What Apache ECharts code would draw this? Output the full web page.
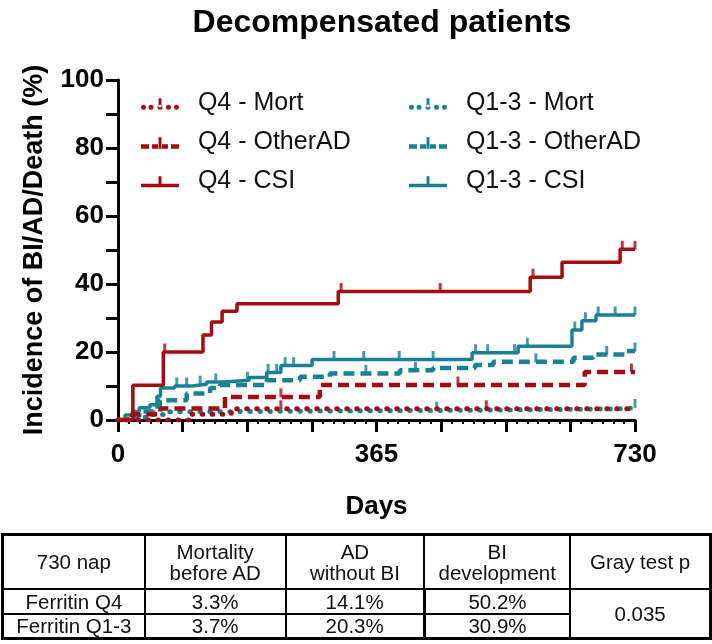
<!DOCTYPE html>
<html>
<head>
<meta charset="utf-8">
<script src="https://cdn.jsdelivr.net/npm/echarts@6/dist/echarts.min.js"></script>
<style>
  html, body { margin: 0; padding: 0; background: #fff; }
  #chart { position: absolute; left: 0; top: 0; width: 712px; height: 644px; }
  #tbl { position: absolute; left: 1px; top: 533px; border-collapse: collapse;
         font-family: "Liberation Sans", Arial, sans-serif;
         font-size: 20.5px; color: #111; border: 3px solid #000; }
  #tbl td { border: 2px solid #000; text-align: center; padding: 0; line-height: 21px; }
</style>
</head>
<body>
<div id="chart"></div>
<table id="tbl">
  <tr style="height:54px">
    <td style="width:140px">730 nap</td>
    <td style="width:139px">Mortality<br>before AD</td>
    <td style="width:137px">AD<br>without BI</td>
    <td style="width:144px">BI<br>development</td>
    <td style="width:138px">Gray test p</td>
  </tr>
  <tr style="height:25px">
    <td>Ferritin Q4</td><td>3.3%</td><td>14.1%</td><td style="border-left:3px solid #000">50.2%</td>
    <td rowspan="2">0.035</td>
  </tr>
  <tr style="height:25px">
    <td>Ferritin Q1-3</td><td>3.7%</td><td>20.3%</td><td style="border-left:3px solid #000;border-bottom:3px solid #000">30.9%</td>
  </tr>
</table>
<script>
// ---- data (day, cumulative incidence %) ----
var q4Mort = [[0,0],[100,1.7],[160,3.3],[730,3.3]];
var q4Other = [[0,0],[20,1.7],[60,3.4],[151,6.8],[285,10.3],[659,14.1],[730,14.1]];
var q4CSI = [[0,0],[21,10.2],[64,20],[120,25],[132,28.8],[147,32],[168,34.2],[311,37.8],[582,42],[627,46.4],[709,50.2],[730,50.2]];
var q13Mort = [[0,0],[20,0.8],[45,1.6],[70,2.4],[110,2.9],[515,3.3],[720,3.7],[730,3.7]];
var q13Other = [[0,0],[15,1],[30,2.5],[50,4],[59,5.8],[97,7.8],[130,9.4],[144,10.3],[210,11.7],[257,12.7],[299,13.7],[398,14.6],[445,15.3],[504,16.2],[530,17.1],[643,18.3],[671,19.3],[718,20.3],[730,20.3]];
var q13CSI = [[0,0],[10,1.5],[20,2.5],[30,3.6],[45,4.5],[55,7],[60,9.4],[80,10],[105,10.5],[125,11.2],[150,11.7],[185,12.5],[210,14],[230,16],[274,17.8],[500,19.8],[565,21.7],[641,26.5],[655,29.2],[675,30.9],[730,30.9]];
// censor marks
var q4CSICens = [[66,20],[315,37.8],[455,37.8],[586,42],[712,50.2],[730,50.2]];
var q13CSICens = [[83,10],[97,10],[116,10.5],[138,11.2],[183,11.7],[212,14],[224,14],[236,16],[248,16],[305,17.8],[347,17.8],[397,17.8],[445,17.8],[505,19.8],[522,19.8],[560,19.8],[578,21.7],[645,26.5],[660,29.2],[678,30.9],[702,30.9],[730,30.9]];
var q4OtherCens = [[230,6.8],[480,10.3],[725,14.1]];
var q13OtherCens = [[210,11.7],[350,13.7],[420,14.6],[590,17.1],[690,19.3],[730,20.3]];
var q4MortCens = [[230,3.3],[520,3.3]];
var q13MortCens = [[450,2.9],[730,3.7]];

var seriesNames = ['Q4 - Mort','Q4 - OtherAD','Q4 - CSI','Q1-3 - Mort','Q1-3 - OtherAD','Q1-3 - CSI'];
var xTickLabels = [0, 365, 730];
var yTicks = [0, 20, 40, 60, 80, 100];

var RED = '#A30D12', TEAL = '#1A8096';
var DOT = { type: [0.5, 9.5], cap: 'round', width: 5 };
var DASH = { type: [11, 6], cap: 'butt', width: 4.5 };
var SOLID = { type: 'solid', width: 3.5 };

// legend icons (line + censor tick), drawn in a 38 x 12.5 box
function dotAt(cx) { return 'M' + (cx - 2.5) + ',10 a2.5,2.5 0 1,0 5,0 a2.5,2.5 0 1,0 -5,0 Z '; }
var ICON_DOT = 'path://' + dotAt(2.5) + dotAt(10) + dotAt(19) + dotAt(27.5) + dotAt(35.5) +
  'M17.5,1 L20.5,1 L20.5,10 L17.5,10 Z M0,0 L0.01,0 L0.01,0.01 Z';
var ICON_DASH = 'path://M0,8 L8,8 L8,12.5 L0,12.5 Z M11,8 L17,8 L17,12.5 L11,12.5 Z M17.5,1 L20.5,1 L20.5,12.5 L17.5,12.5 Z M21,8 L27,8 L27,12.5 L21,12.5 Z M30,8 L38,8 L38,12.5 L30,12.5 Z M0,0 L0.01,0 L0.01,0.01 Z';
var ICON_SOLID = 'path://M0,8.5 L38,8.5 L38,12 L0,12 Z M17.5,1 L20.5,1 L20.5,8.5 L17.5,8.5 Z M0,0 L0.01,0 L0.01,0.01 Z M37.99,12.49 L38,12.49 L38,12.5 Z';
var icons = [ICON_DOT, ICON_DASH, ICON_SOLID];

function line(name, data, color, style) {
  return { name: name, type: 'line', step: 'end', data: data, symbol: 'none',
    lineStyle: Object.assign({ color: color }, style), itemStyle: { color: color },
    animation: false };
}
function cens(data, color) {
  return { type: 'scatter', data: data, symbol: 'rect', symbolSize: [3, 9], symbolOffset: [0, -4],
    itemStyle: { color: color }, animation: false, silent: true };
}
function legendData(names) {
  return names.map(function (n, i) { return { name: n, icon: icons[i] }; });
}

var chart = echarts.init(document.getElementById('chart'));
var FONT = '"Liberation Sans", Arial, sans-serif';
var legendText = { fontSize: 25, color: '#111', fontFamily: FONT, padding: [8, 0, 0, 0] };
chart.setOption({
  backgroundColor: '#fff',
  textStyle: { fontFamily: FONT },
  title: { text: 'Decompensated patients', left: 377, top: 2, textAlign: 'center',
    textStyle: { fontFamily: FONT, fontWeight: 'bold', fontSize: 32, color: '#000' } },
  legend: [
    { orient: 'vertical', left: 136, top: 86, itemWidth: 38, itemHeight: 12.5, itemGap: 14,
      data: legendData(seriesNames.slice(0, 3)), textStyle: legendText, selectedMode: false,
      formatter: '  {name}' },
    { orient: 'vertical', left: 404, top: 86, itemWidth: 38, itemHeight: 12.5, itemGap: 14,
      data: legendData(seriesNames.slice(3)), textStyle: legendText, selectedMode: false,
      formatter: '  {name}' }
  ],
  grid: { left: 118, right: 77, top: 80, bottom: 224 },
  xAxis: { type: 'value', min: 0, max: 730, interval: 91.25,
    name: 'Days', nameLocation: 'middle', nameGap: 74,
    nameTextStyle: { fontSize: 26, fontWeight: 'bold', color: '#000', fontFamily: FONT },
    axisLine: { lineStyle: { color: '#000', width: 3 } },
    axisTick: { length: 12, lineStyle: { width: 3, color: '#000' } },
    minorTick: { show: true, splitNumber: 6, length: 4, lineStyle: { width: 2, color: '#000' } },
    splitLine: { show: false },
    axisLabel: { margin: 22, fontSize: 26, fontWeight: 'bold', color: '#000', fontFamily: FONT,
      formatter: function (v) { for (var i = 0; i < xTickLabels.length; i++) { if (Math.abs(v - xTickLabels[i]) < 0.01) return String(xTickLabels[i]); } return ''; } }
  },
  yAxis: { type: 'value', min: 0, max: 100, interval: 20,
    name: 'Incidence of BI/AD/Death (%)', nameLocation: 'middle', nameGap: 70, nameRotate: 90,
    nameTextStyle: { fontSize: 27, fontWeight: 'bold', color: '#000', fontFamily: FONT },
    axisLine: { show: true, lineStyle: { color: '#000', width: 3 } },
    axisTick: { show: true, length: 12, lineStyle: { width: 3, color: '#000' } },
    minorTick: { show: true, splitNumber: 2, length: 12, lineStyle: { width: 3, color: '#000' } },
    splitLine: { show: false },
    axisLabel: { margin: 14, fontSize: 26, fontWeight: 'bold', color: '#000', fontFamily: FONT,
      formatter: function (v) { return yTicks.indexOf(v) >= 0 ? String(v) : ''; } }
  },
  series: [
    line('Q1-3 - Mort', q13Mort, TEAL, DOT),
    line('Q1-3 - OtherAD', q13Other, TEAL, DASH),
    line('Q1-3 - CSI', q13CSI, TEAL, SOLID),
    line('Q4 - Mort', q4Mort, RED, DOT),
    line('Q4 - OtherAD', q4Other, RED, DASH),
    line('Q4 - CSI', q4CSI, RED, SOLID),
    cens(q13CSICens, TEAL), cens(q13OtherCens, TEAL), cens(q13MortCens, TEAL),
    cens(q4CSICens, RED), cens(q4OtherCens, RED), cens(q4MortCens, RED)
  ]
});
</script>
</body>
</html>
